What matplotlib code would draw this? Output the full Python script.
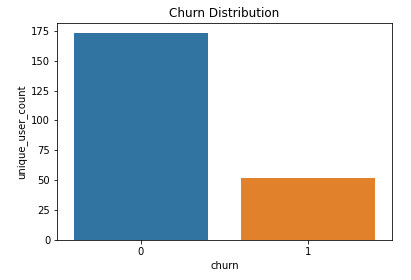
import matplotlib
matplotlib.use("Agg")
import matplotlib.pyplot as plt

# data
churn = ["0", "1"]
unique_user_count = [173, 52]
bar_colors = ["#3274a1", "#e1812c"]

fig = plt.figure(figsize=(411 / 72, 280 / 72), dpi=72)
ax = fig.add_axes([0.139, 0.143, 0.815, 0.775])

ax.bar(churn, unique_user_count, width=0.8, color=bar_colors)
ax.set_xlim(-0.5, 1.5)
ax.set_ylim(0, max(unique_user_count) * 1.05)

ax.set_title("Churn Distribution", fontsize=12)
ax.set_xlabel("churn", fontsize=10)
ax.set_ylabel("unique_user_count", fontsize=10)
ax.tick_params(labelsize=10)

fig.savefig("out.png", dpi=72)
